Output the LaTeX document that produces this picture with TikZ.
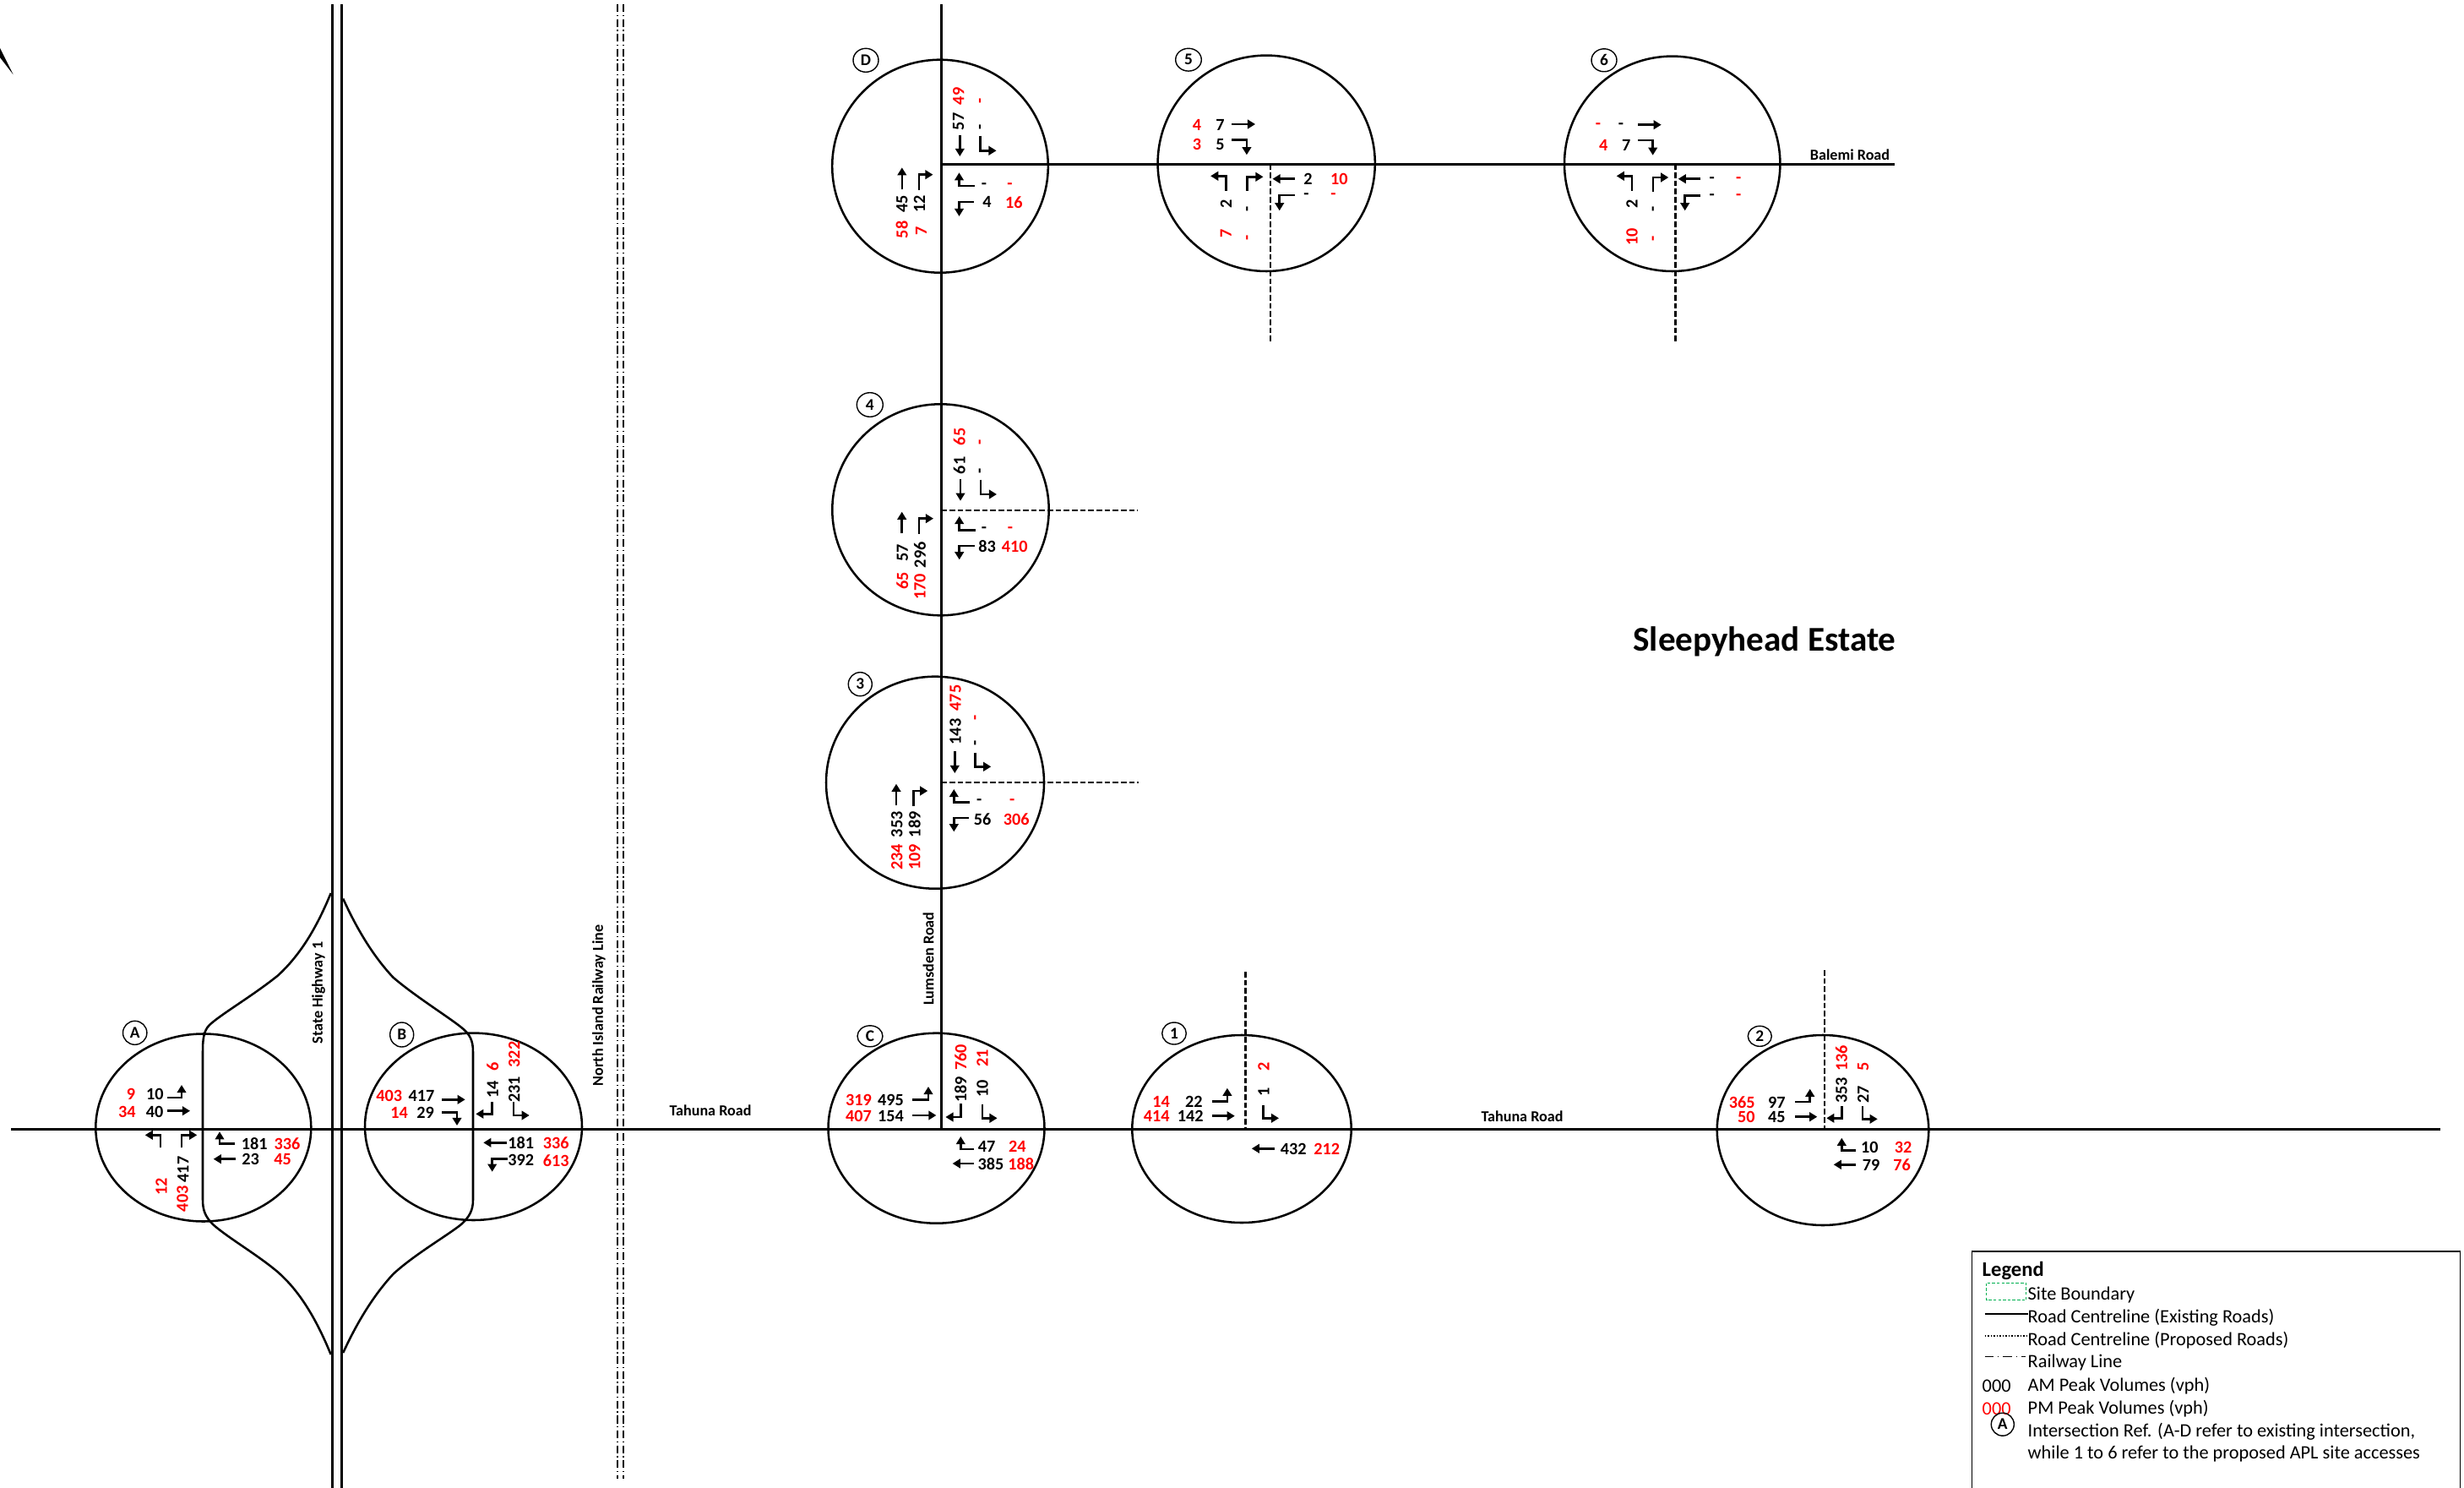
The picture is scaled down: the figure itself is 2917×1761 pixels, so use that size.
\documentclass[tikz,border=0pt]{standalone}
\usepackage{fontspec}
\setmainfont{Carlito}
\usetikzlibrary{arrows.meta}
\definecolor{pmred}{RGB}{255,0,0}
\definecolor{sitegreen}{RGB}{0,176,80}
\tikzset{
  road/.style={line width=0.72pt},
  prop/.style={line width=0.72pt,dash pattern=on 1.9pt off 0.85pt},
  rail/.style={line width=0.45pt,dash pattern=on 2.6pt off 1pt on 0.4pt off 1pt},
  ring/.style={line width=0.72pt},
  flow/.style={line width=0.72pt,-{Triangle[length=2.6pt,width=3pt]}},
  am/.style={font=\bfseries\fontsize{5.75pt}{6pt}\selectfont,inner sep=0pt,text=black},
  pm/.style={font=\bfseries\fontsize{5.75pt}{6pt}\selectfont,inner sep=0pt,text=pmred},
  lab/.style={font=\bfseries\fontsize{5.15pt}{6pt}\selectfont,inner sep=0pt},
  legt/.style={font=\fontsize{6.35pt}{7pt}\selectfont,inner sep=0pt,anchor=west},
  refmark/.style={line width=0.4pt},
  reftext/.style={font=\bfseries\fontsize{5.5pt}{6pt}\selectfont,inner sep=0pt}
}
% text helpers: x, y, text
\newcommand{\AMh}[3]{\node[am] at (#1,#2) {#3};}
\newcommand{\PMh}[3]{\node[pm] at (#1,#2) {#3};}
\newcommand{\AMv}[3]{\node[am,rotate=90] at (#1,#2) {#3};}
\newcommand{\PMv}[3]{\node[pm,rotate=90] at (#1,#2) {#3};}
% ref marker: name, x, y, rx, ry, text
\newcommand{\RefMark}[6]{\draw[refmark] (#2,#3) ellipse [x radius=#4,y radius=#5];
  \node[reftext] (#1) at (#2,#3) {#6};}
\newcommand{\Ring}[4]{\draw[ring] (#1,#2) ellipse [x radius=#3,y radius=#4];}
\begin{document}
\begin{tikzpicture}[x=0.01cm,y=-0.01cm]
\useasboundingbox (0,0) rectangle (2917,1761);
\fill[white] (0,0) rectangle (2917,1761);
% fragment top-left
\fill[black] (0,57) -- (15.5,88) -- (0,68) -- cycle;
% highway, rail
\draw[road] (393.3,5) -- (393.3,1761);
\draw[road] (404.7,5) -- (404.7,1761);
\draw[rail] (731,5) -- (731,1750);
\draw[rail] (738,5) -- (738,1750);
% ramps
\draw[road] (391.7,1057) .. controls (372,1105) and (352,1133) .. (329.6,1154)
  .. controls (300,1178) and (262,1200) .. (248,1213)
  .. controls (241,1220) and (240,1230) .. (240,1245) -- (240,1420)
  .. controls (240,1432) and (243,1440) .. (252,1449)
  .. controls (270,1465) and (305,1485) .. (329.6,1506)
  .. controls (352,1526) and (372,1555) .. (391.7,1603);
\draw[road] (406.2,1063.6) .. controls (425,1105) and (445,1135) .. (465.3,1156.6)
  .. controls (490,1178) and (530,1203) .. (545,1215)
  .. controls (557,1224) and (560,1232) .. (560,1245) -- (560,1420)
  .. controls (560,1432) and (556,1440) .. (546,1449)
  .. controls (530,1462) and (490,1485) .. (465.3,1508)
  .. controls (445,1530) and (425,1560) .. (406.2,1601);
% roads
\draw[road] (13,1336.5) -- (2889,1336.5);
\draw[road] (1114.3,5) -- (1114.3,1336.5);
\draw[road] (1114.3,194.3) -- (2242.7,194.3);
\draw[prop] (1504,194.3) -- (1504,406.7);
\draw[prop] (1983.7,194.3) -- (1983.7,406.7);
\draw[prop] (1114.3,604) -- (1346.7,604);
\draw[prop] (1114.3,926) -- (1348.3,926);
\draw[prop] (1474.5,1150) -- (1474.5,1336.5);
\draw[prop] (2160,1148) -- (2160,1336.5);
% intersection circles
\Ring{240.8}{1334.5}{127.5}{111}
\Ring{560.5}{1333.3}{128.5}{110.7}
\Ring{1108.5}{1335.2}{128}{112.5}
\Ring{1470}{1336}{129.7}{111}
\Ring{2158}{1337.5}{125.3}{112.5}
\Ring{1113}{196.7}{127.8}{126}
\Ring{1499.2}{193.3}{128.6}{127.7}
\Ring{1979.7}{193.8}{127.7}{127.2}
\Ring{1113.5}{603.3}{128.2}{125}
\Ring{1107}{926.2}{129}{125.5}
% reference markers
\RefMark{mA}{159.7}{1222.3}{14.2}{14}{A}
\RefMark{mB}{475.7}{1224.5}{14}{14.5}{B}
\RefMark{mC}{1030}{1226.3}{15}{12.5}{C}
\RefMark{mOne}{1390}{1223}{14.3}{13}{1}
\RefMark{mTwo}{2083.3}{1226.3}{14}{12}{2}
\RefMark{mD}{1025}{71.3}{15}{14}{D}
\RefMark{mFive}{1407}{70.7}{15.3}{13.4}{5}
\RefMark{mSix}{1899}{71.3}{15}{13.5}{6}
\RefMark{mFour}{1029.8}{479}{15.5}{14.3}{4}
\RefMark{mThree}{1018.3}{809.7}{14}{14}{3}
% A
\PMh{155}{1295}{9}\AMh{183.3}{1295}{10}\PMh{150.3}{1316}{34}\AMh{183}{1316}{40}
\draw[flow] (198.3,1299) -- (215,1299) -- (215,1284);
\draw[flow] (198.3,1314.7) -- (225,1314.7);
\draw[flow] (190,1358.3) -- (190,1343.3) -- (171.7,1343.3);
\draw[flow] (215,1358.3) -- (215,1343.3) -- (233.3,1343.3);
\AMv{216.7}{1384}{417}\PMv{191}{1404}{12}\PMv{216}{1418.7}{403}
\draw[flow] (278.3,1353.3) -- (260,1353.3) -- (260,1339.3);
\draw[flow] (279.3,1371.7) -- (252.7,1371.7);
\AMh{301.3}{1354}{181}\PMh{340}{1354}{336}\AMh{296.7}{1371.7}{23}\PMh{334.7}{1371.7}{45}
% B
\PMh{460.7}{1297.3}{403}\AMh{499}{1297.3}{417}\PMh{472.7}{1317}{14}\AMh{503.7}{1317}{29}
\draw[flow] (523.3,1301.3) -- (550.7,1301.3);
\draw[flow] (523.3,1316.3) -- (541,1316.3) -- (541,1332);
\AMv{583.3}{1289.3}{14}\PMv{583.3}{1262.7}{6}\AMv{608.7}{1289.3}{231}\PMv{608.7}{1248}{322}
\draw[flow] (582.3,1304.3) -- (582.3,1318.3) -- (563.3,1318.3);
\draw[flow] (608,1304.3) -- (608,1320) -- (626.7,1320);
\draw[flow] (600,1352.3) -- (572.3,1352.3);
\draw[flow] (601,1371.7) -- (582.7,1371.7) -- (582.7,1386.7);
\AMh{616.7}{1352.7}{181}\PMh{658.3}{1352.7}{336}\AMh{616.7}{1373.3}{392}\PMh{658.3}{1373.3}{613}
% C
\PMh{1016.5}{1302.3}{319}\AMh{1054.5}{1302.3}{495}\PMh{1016.5}{1321.3}{407}\AMh{1054.5}{1321.3}{154}
\draw[flow] (1079.8,1301.7) -- (1099,1301.7) -- (1099,1286);
\draw[flow] (1079.8,1320) -- (1108.4,1320);
\AMv{1137.3}{1289.3}{189}\PMv{1137.3}{1251.3}{760}\AMv{1163}{1288.7}{10}\PMv{1163}{1252.3}{21}
\draw[flow] (1137.3,1306) -- (1137.3,1322) -- (1119.4,1322);
\draw[flow] (1163,1307.3) -- (1163,1323.3) -- (1180.6,1323.3);
\draw[flow] (1153.3,1360) -- (1137.3,1360) -- (1137.3,1345);
\draw[flow] (1153.3,1377) -- (1127.6,1377);
\AMh{1168}{1357.3}{47}\PMh{1204.3}{1357.3}{24}\AMh{1172.9}{1377.3}{385}\PMh{1208.8}{1377.3}{188}
% 1
\PMh{1374.5}{1304.3}{14}\AMh{1413.3}{1304.3}{22}\PMh{1369.2}{1321.3}{414}\AMh{1409.2}{1321.3}{142}
\draw[flow] (1434.9,1303.3) -- (1452.9,1303.3) -- (1452.9,1287.7);
\draw[flow] (1434.9,1320.7) -- (1461.8,1320.7);
\PMv{1496.1}{1262}{2}\AMv{1496.1}{1292}{1}
\draw[flow] (1495.3,1308.3) -- (1495.3,1323.3) -- (1514,1323.3);
\draw[flow] (1509.2,1359.3) -- (1481.8,1359.3);
\AMh{1531.2}{1360}{432}\PMh{1570.8}{1360}{212}
% 2
\PMh{2062.3}{1305}{365}\AMh{2103.3}{1305}{97}\PMh{2067.3}{1322.3}{50}\AMh{2103.3}{1322.3}{45}
\draw[flow] (2125.3,1304) -- (2142.7,1304) -- (2142.7,1288.7);
\draw[flow] (2125.3,1321.7) -- (2151.3,1321.7);
\AMv{2180}{1290.3}{353}\PMv{2180}{1252.3}{136}\AMv{2205.7}{1295}{27}\PMv{2205.7}{1262}{5}
\draw[flow] (2180.3,1309.3) -- (2180.3,1323.3) -- (2162.3,1323.3);
\draw[flow] (2205,1309.3) -- (2205,1324.3) -- (2222.7,1324.3);
\draw[flow] (2197.3,1361.7) -- (2180.3,1361.7) -- (2180.3,1346.7);
\draw[flow] (2197.3,1378.3) -- (2170.7,1378.3);
\AMh{2213.3}{1358.3}{10}\PMh{2253}{1358.3}{32}\AMh{2215}{1379}{79}\PMh{2251.7}{1379}{76}
% D
\AMv{1134.7}{144}{57}\PMv{1134.7}{114}{49}\AMv{1162.4}{150.7}{-}\PMv{1162.4}{119.3}{-}
\draw[flow] (1136.3,160) -- (1136.3,185);
\draw[flow] (1160.4,160.7) -- (1160.4,178.3) -- (1179.6,178.3);
\draw[flow] (1153.9,220) -- (1135.5,220) -- (1135.5,204.3);
\draw[flow] (1153,239) -- (1135.5,239) -- (1135.5,256);
\AMh{1164.9}{220}{-}\PMh{1195.5}{220}{-}\AMh{1168.6}{239.3}{4}\PMh{1200.4}{239.3}{16}
\draw[flow] (1067.8,224.3) -- (1067.8,198.3);
\draw[flow] (1087.8,225) -- (1087.8,206.7) -- (1104.5,206.7);
\AMv{1067.8}{241.7}{45}\AMv{1088.6}{241.7}{12}\PMv{1067.8}{272}{58}\PMv{1090.6}{273.3}{7}
% 5
\PMh{1417.1}{148.3}{4}\AMh{1444.5}{148.3}{7}\PMh{1417.1}{171.3}{3}\AMh{1444.5}{171.3}{5}
\draw[flow] (1458.4,147) -- (1486.1,147);
\draw[flow] (1458.4,165.7) -- (1475.9,165.7) -- (1475.9,183.3);
\draw[flow] (1451.4,225.7) -- (1451.4,208.3) -- (1433.1,208.3);
\draw[flow] (1476.7,226) -- (1476.7,209.3) -- (1495.5,209.3);
\AMv{1451.4}{241}{2}\AMv{1478.8}{247.7}{-}\PMv{1451.4}{276}{7}\PMv{1478.8}{281.7}{-}
\draw[flow] (1533,211.7) -- (1506.5,211.7);
\draw[flow] (1532.7,231) -- (1514.7,231) -- (1514.7,249.3);
\AMh{1548.6}{211.7}{2}\PMh{1585.3}{211.7}{10}\AMh{1546.5}{232.3}{-}\PMh{1578.4}{232.3}{-}
% 6
\PMh{1892}{149.3}{-}\AMh{1919}{149.3}{-}\PMh{1898.3}{172.3}{4}\AMh{1925.3}{172.3}{7}
\draw[flow] (1939.3,147.7) -- (1966.7,147.7);
\draw[flow] (1939.3,166) -- (1956.7,166) -- (1956.7,183.7);
\draw[flow] (1932,226) -- (1932,208.3) -- (1913.7,208.3);
\draw[flow] (1957,226.7) -- (1957,210) -- (1975.3,210);
\AMv{1932}{241.7}{2}\AMv{1959.3}{247.7}{-}\PMv{1932}{280.7}{10}\PMv{1959.3}{282}{-}
\draw[flow] (2013.3,211.7) -- (1986.7,211.7);
\draw[flow] (2013.3,231.3) -- (1994.7,231.3) -- (1994.7,249.3);
\AMh{2026.7}{213.3}{-}\PMh{2058.3}{213.3}{-}\AMh{2026.7}{233.3}{-}\PMh{2058.3}{233.3}{-}
% 4
\AMv{1135.7}{551}{61}\PMv{1135.7}{517}{65}\AMv{1162.3}{557.7}{-}\PMv{1162.3}{523.7}{-}
\draw[flow] (1137,566.7) -- (1137,592.7);
\draw[flow] (1161,567.7) -- (1161,585) -- (1180,585);
\draw[flow] (1154.7,627.3) -- (1135.7,627.3) -- (1135.7,611);
\draw[flow] (1153.7,646) -- (1135.7,646) -- (1135.7,662.3);
\AMh{1165}{627.3}{-}\PMh{1196}{627.3}{-}\AMh{1168.7}{646.7}{83}\PMh{1201.3}{646.7}{410}
\draw[flow] (1067.7,631.3) -- (1067.7,605.7);
\draw[flow] (1088,632) -- (1088,613.7) -- (1105,613.7);
\AMv{1068.3}{654.3}{57}\AMv{1089}{656.7}{296}\PMv{1068.3}{687.3}{65}\PMv{1089}{694.3}{170}
% 3
\AMv{1131}{866}{143}\PMv{1131}{826}{475}\AMv{1156.7}{879.7}{-}\PMv{1156.7}{849.7}{-}
\draw[flow] (1130.3,889.3) -- (1130.3,915);
\draw[flow] (1154.3,890.7) -- (1154.3,907.3) -- (1173.3,907.3);
\draw[flow] (1148.3,949.3) -- (1129.3,949.3) -- (1129.3,934);
\draw[flow] (1147.3,968) -- (1129.3,968) -- (1129.3,984.3);
\AMh{1159.3}{949.3}{-}\PMh{1198.3}{949.3}{-}\AMh{1163}{969.3}{56}\PMh{1203.3}{969.3}{306}
\draw[flow] (1061,953.3) -- (1061,927.7);
\draw[flow] (1081.3,954) -- (1081.3,936) -- (1098.3,936);
\AMv{1061.7}{975.7}{353}\AMv{1082.7}{975.7}{189}\PMv{1061.7}{1014.3}{234}\PMv{1082.7}{1014.3}{109}
% road labels
\node[lab,rotate=90] (shOne) at (377,1175) {State Highway 1};
\node[lab,rotate=90] (nirl) at (709,1190) {North Island Railway Line};
\node[lab,rotate=90] (lums) at (1099,1134.6) {Lumsden Road};
\node[lab] (tahA) at (841,1314) {Tahuna Road};
\node[lab] (tahB) at (1802,1321) {Tahuna Road};
\node[lab] (balemi) at (2190,183) {Balemi Road};
\node[font=\bfseries\fontsize{11.7pt}{13pt}\selectfont,inner sep=0pt] (estate) at (2089,759) {Sleepyhead Estate};
% legend
\draw[line width=0.3pt] (2334.4,1761) -- (2334.4,1481) -- (2912.8,1481) -- (2912.8,1761);
\node[inner sep=0pt,anchor=west,font=\bfseries\fontsize{7pt}{8pt}\selectfont] (legh) at (2346,1504) {Legend};
\draw[sitegreen,line width=0.3pt,dash pattern=on 1pt off 0.6pt] (2351.8,1518.7) rectangle (2398.7,1538.7);
\draw[line width=0.6pt] (2349.5,1555) -- (2401,1555);
\draw[line width=0.4pt,dash pattern=on 0.5pt off 0.5pt] (2349.5,1581) -- (2399,1581);
\draw[line width=0.35pt,dash pattern=on 3pt off 1.4pt on 0.4pt off 1.4pt] (2349.5,1605.3) -- (2398,1605.3);
\node[legt] (l1) at (2400,1533) {Site Boundary};
\node[legt] (l2) at (2400,1559) {Road Centreline (Existing Roads)};
\node[legt] (l3) at (2400,1586) {Road Centreline (Proposed Roads)};
\node[legt] (l4) at (2400,1613) {Railway Line};
\node[legt] (l5) at (2346,1640) {000};
\node[legt] (l6) at (2400,1640) {AM Peak Volumes (vph)};
\node[legt,text=pmred] (l7) at (2346,1667) {000};
\node[legt] (l8) at (2400,1667) {PM Peak Volumes (vph)};
\node[legt] (l9) at (2400,1694) {Intersection Ref. (A-D refer to existing intersection,};
\node[legt] (l10) at (2400,1721) {while 1 to 6 refer to the proposed APL site accesses};
\RefMark{mLeg}{2370.8}{1685.7}{13.5}{13.5}{A}
\end{tikzpicture}
\end{document}
